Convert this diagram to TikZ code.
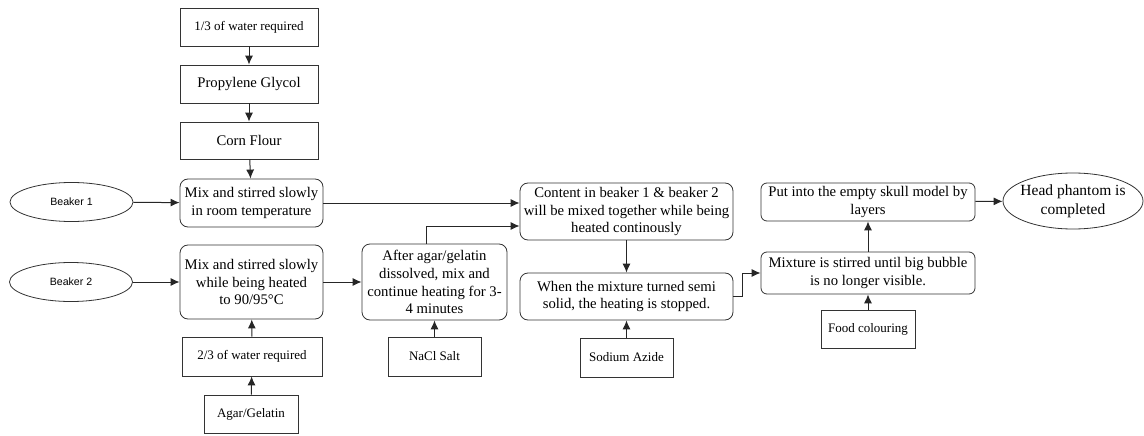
\documentclass[tikz,border=0pt]{standalone}
\usepackage{fontspec}
\setmainfont{Liberation Serif}
\newfontfamily\boxfont{Liberation Serif}
\newfontfamily\beakerfont{Liberation Sans}
\usetikzlibrary{arrows.meta,shapes.geometric}

\tikzset{
  procbox/.style={draw=black!80, line width=0.8pt, rounded corners=8pt, align=center, inner sep=0pt, font=\boxfont\fontsize{14.7}{17.8}\selectfont},
  inbox/.style={draw=black!80, line width=0.8pt, align=center, inner sep=0pt, font=\boxfont\fontsize{13}{15}\selectfont},
  bigtext/.style={font=\boxfont\fontsize{14.7}{17.8}\selectfont},
  beaker/.style={draw=black!80, line width=0.8pt, ellipse, inner sep=0pt, minimum width=123pt, minimum height=39pt, font=\beakerfont\fontsize{10.6}{12}\selectfont},
  flow/.style={-{Latex[length=9pt,width=8pt]}, draw=black!85, line width=1pt}
}

\begin{document}
\begin{tikzpicture}[x=1pt, y=-1pt]

\useasboundingbox (0,0) rectangle (1144,436);

% Beaker 1
\node[inbox, minimum width=138pt, minimum height=38pt] (water13) at (249,27) {1/3 of water required};
\node[inbox, bigtext, minimum width=138pt, minimum height=38pt] (glycol) at (249,84) {Propylene Glycol};
\node[inbox, bigtext, minimum width=138pt, minimum height=37pt] (flour) at (249,140.5) {Corn Flour};
\node[procbox, minimum width=143pt, minimum height=48pt] (mixone) at (251.5,203) {Mix and stirred slowly\\in room temperature};
\node[beaker] (beakerone) at (71.5,202) {Beaker 1};

% Beaker 2
\node[beaker] (beakertwo) at (71,282) {Beaker 2};
\node[procbox, minimum width=143pt, minimum height=74pt] (mixtwo) at (251.5,282) {Mix and stirred slowly\\while being heated\\to 90/95°C};
\node[inbox, minimum width=140pt, minimum height=39pt] (water23) at (252,356.5) {2/3 of water required};
\node[inbox, minimum width=94pt, minimum height=38pt] (agar) at (251,414) {Agar/Gelatin};
\node[procbox, minimum width=145pt, minimum height=76pt] (dissolve) at (434.5,282) {After agar/gelatin\\dissolved, mix and\\continue heating for 3-\\4 minutes};
\node[inbox, minimum width=93pt, minimum height=39pt] (salt) at (434.5,356.5) {NaCl Salt};

% Mixing
\node[procbox, minimum width=213pt, minimum height=57pt] (combine) at (626.5,211.5) {Content in beaker 1 \& beaker 2\\will be mixed together while being\\heated continously};
\node[procbox, minimum width=213pt, minimum height=47pt] (semisolid) at (626.5,296.5) {When the mixture turned semi\\solid, the heating is stopped.};
\node[inbox, minimum width=93pt, minimum height=39pt] (azide) at (626.5,357.5) {Sodium Azide};

% Finish
\node[procbox, rounded corners=6pt, minimum width=214pt, minimum height=42pt] (bubble) at (868,273) {Mixture is stirred until big bubble\\is no longer visible.};
\node[procbox, rounded corners=6pt, minimum width=214pt, minimum height=38pt] (skull) at (868,202) {Put into the empty skull model by\\layers};
\node[inbox, minimum width=94pt, minimum height=38pt] (colour) at (868,329) {Food colouring};
\node[draw=black!80, line width=0.8pt, ellipse, minimum width=140pt, minimum height=56pt] (phantom) at (1073,201) {};
\node[align=center, font=\boxfont\fontsize{15.5}{19}\selectfont] (phantomtext) at (phantom) {Head phantom is\\completed};

% Arrows
\draw[flow] (water13) -- (glycol);
\draw[flow] (glycol) -- (flour);
\draw[flow] (flour) -- (mixone);
\draw[flow] (beakerone) -- (mixone);
\draw[flow] (beakertwo) -- (mixtwo);
\draw[flow] (water23) -- (mixtwo);
\draw[flow] (agar) -- (water23);
\draw[flow] (mixtwo) -- (dissolve);
\draw[flow] (salt) -- (dissolve);

\draw[flow] (mixone.east) -- (mixone.east -| combine.west);
\coordinate (joinup) at (426,226);
\draw[flow] (dissolve.north -| joinup) |- (combine.west |- joinup);

\draw[flow] (combine) -- (semisolid);
\draw[flow] (azide) -- (semisolid);
\coordinate (bend) at (742,296.5);
\draw[flow] (semisolid.east) -- (bend) |- (bubble.west);

\draw[flow] (colour) -- (bubble);
\draw[flow] (bubble) -- (skull);
\draw[flow] (skull) -- (phantom);

\end{tikzpicture}
\end{document}
